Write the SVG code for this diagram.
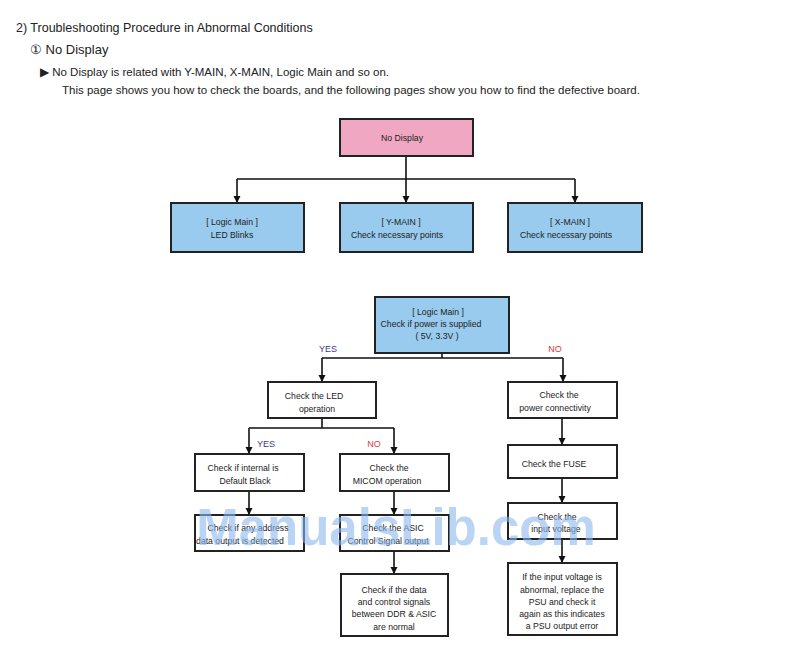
<svg xmlns="http://www.w3.org/2000/svg" width="800" height="656" viewBox="0 0 800 656">
<defs>
<marker id="ah" markerWidth="8" markerHeight="8" refX="7" refY="4" orient="auto" markerUnits="userSpaceOnUse">
<path d="M0,0.5 L7,4 L0,7.5 Z" fill="#111"/>
</marker>
<style>
.box{stroke:#222;stroke-width:2}
.w{fill:#ffffff}
.b{fill:#99cbee}
.p{fill:#f0a8c2}
.t{font-family:"Liberation Sans",Arial,sans-serif;font-size:8.7px;fill:#222;text-anchor:middle}
.c{fill:none;stroke:#111;stroke-width:1.6}
.a{marker-end:url(#ah)}
.h{font-family:"Liberation Sans",Arial,sans-serif;fill:#222}
.yes{font-family:"Liberation Sans",Arial,sans-serif;font-size:9px;fill:#3b3b94;text-anchor:middle}
.no{font-family:"Liberation Sans",Arial,sans-serif;font-size:9px;fill:#e0383a;text-anchor:middle}
</style>
</defs>
<rect width="800" height="656" fill="#ffffff"/>
<g id="header">
<text class="h" x="16" y="32" font-size="12.5">2) Troubleshooting Procedure in Abnormal Conditions</text>
<text class="h" x="30" y="54" font-size="13">① No Display</text>
<text class="h" x="40" y="76" font-size="11.5">▶ No Display is related with Y-MAIN, X-MAIN, Logic Main and so on.</text>
<text class="h" x="62" y="94" font-size="11.5">This page shows you how to check the boards, and the following pages show you how to find the defective board.</text>
</g>
<g id="connectors">
<path class="c" d="M406,156 V179 M237,179 H575"/>
<path class="c a" d="M237,179 V203"/>
<path class="c a" d="M406,179 V203"/>
<path class="c a" d="M575,179 V203"/>
<path class="c" d="M442,353 V358 M322,358 H563"/>
<path class="c a" d="M322,358 V382"/>
<path class="c a" d="M563,358 V382"/>
<path class="c" d="M322,418 V428 M249,428 H394"/>
<path class="c a" d="M249,428 V454"/>
<path class="c a" d="M394,428 V454"/>
<path class="c a" d="M249,491 V515"/>
<path class="c a" d="M394,491 V515"/>
<path class="c a" d="M394,551 V574"/>
<path class="c a" d="M562,418 V445"/>
<path class="c a" d="M562,478 V503"/>
<path class="c a" d="M562,539 V563"/>
<text class="yes" x="328" y="352">YES</text>
<text class="no" x="555" y="352">NO</text>
<text class="yes" x="266" y="447">YES</text>
<text class="no" x="374" y="447">NO</text>
</g>
<g id="n-nodisplay"><rect class="box p" x="340" y="119" width="133" height="37"/><text class="t" x="402" y="141">No Display</text></g>
<g id="n-logicled"><rect class="box b" x="171" y="203" width="133" height="49"/><text class="t" x="232" y="225">[ Logic Main ]</text><text class="t" x="232" y="238">LED Blinks</text></g>
<g id="n-ymain"><rect class="box b" x="340" y="203" width="133" height="49"/><text class="t" x="401" y="225">[ Y-MAIN ]</text><text class="t" x="397" y="238">Check necessary points</text></g>
<g id="n-xmain"><rect class="box b" x="508" y="203" width="134" height="49"/><text class="t" x="570" y="225">[ X-MAIN ]</text><text class="t" x="566" y="238">Check necessary points</text></g>
<g id="n-power"><rect class="box b" x="375" y="297" width="134" height="56"/><text class="t" x="438" y="315">[ Logic Main ]</text><text class="t" x="431" y="327">Check if power is supplied</text><text class="t" x="437" y="339">( 5V, 3.3V )</text></g>
<g id="n-led"><rect class="box w" x="268" y="382" width="108" height="36"/><text class="t" x="314" y="399">Check the LED</text><text class="t" x="317" y="412">operation</text></g>
<g id="n-conn"><rect class="box w" x="508" y="382" width="109" height="36"/><text class="t" x="559" y="398">Check the</text><text class="t" x="555" y="411">power connectivity</text></g>
<g id="n-internal"><rect class="box w" x="195" y="454" width="109" height="37"/><text class="t" x="243" y="471">Check if internal is</text><text class="t" x="245" y="484">Default Black</text></g>
<g id="n-micom"><rect class="box w" x="340" y="454" width="109" height="37"/><text class="t" x="389" y="471">Check the</text><text class="t" x="387" y="484">MICOM operation</text></g>
<g id="n-fuse"><rect class="box w" x="508" y="445" width="109" height="33"/><text class="t" x="554" y="467">Check the FUSE</text></g>
<g id="n-address"><rect class="box w" x="195" y="515" width="109" height="36"/><text class="t" x="248" y="531">Check if any address</text><text class="t" x="240" y="544">data output is detected</text></g>
<g id="n-asic"><rect class="box w" x="340" y="515" width="109" height="36"/><text class="t" x="393" y="531">Check the ASIC</text><text class="t" x="388" y="544">Control Signal output</text></g>
<g id="n-input"><rect class="box w" x="508" y="503" width="109" height="36"/><text class="t" x="557" y="520">Check the</text><text class="t" x="556" y="532">input voltage</text></g>
<g id="n-ddr"><rect class="box w" x="341" y="574" width="107" height="62"/><text class="t" x="394" y="593">Check if the data</text><text class="t" x="394" y="605">and control signals</text><text class="t" x="394" y="617">between DDR &amp; ASIC</text><text class="t" x="394" y="630">are normal</text></g>
<g id="n-psu"><rect class="box w" x="508" y="563" width="109" height="72"/><text class="t" x="562" y="580">If the input voltage is</text><text class="t" x="562" y="593">abnormal, replace the</text><text class="t" x="562" y="605">PSU and check it</text><text class="t" x="562" y="617">again as this indicates</text><text class="t" x="562" y="629">a PSU output error</text></g>
<g id="watermark"><text x="396" y="545" font-family="Liberation Sans,Arial,sans-serif" font-weight="bold" font-size="51" fill="#8bb8ec" fill-opacity="0.6" text-anchor="middle">ManualsLib.com</text></g>
</svg>
